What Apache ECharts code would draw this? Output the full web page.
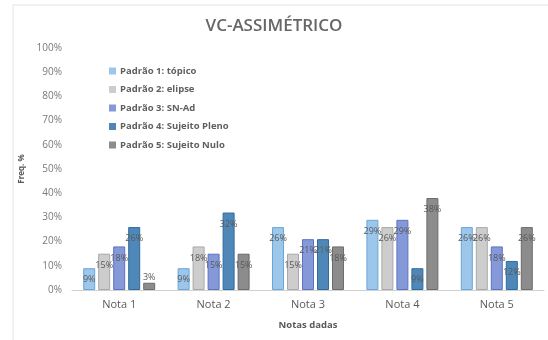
<!DOCTYPE html>
<html><head><meta charset="utf-8">
<script src="https://cdn.jsdelivr.net/npm/echarts@6/dist/echarts.min.js"></script>
<style>html,body{margin:0;padding:0;background:#fff}#c{width:548px;height:340px}</style>
</head><body><div id="c"></div>
<script>
const categories = ['Nota 1','Nota 2','Nota 3','Nota 4','Nota 5'];
const seriesNames = ['Padrão 1: tópico','Padrão 2: elipse','Padrão 3: SN-Ad','Padrão 4: Sujeito Pleno','Padrão 5: Sujeito Nulo'];
const p1 = [9, 9, 26, 29, 26];
const p2 = [15, 18, 15, 26, 26];
const p3 = [18, 15, 21, 29, 18];
const p4 = [26, 32, 21, 9, 12];
const p5 = [3, 15, 18, 38, 26];
const yTicks = [0,10,20,30,40,50,60,70,80,90,100];

const values = [p1,p2,p3,p4,p5];
const fills = ['#9cc6ea','#cdcdcd','#8599d9','#4f88b8','#8c8c8c'];
const borders = ['#6aa6d8','#a9a9a9','#5c73c2','#2f6b9c','#6c6c6c'];
const font = '"Open Sans", "Noto Sans", sans-serif';

const chart = echarts.init(document.getElementById('c'), null, {renderer:'canvas'});
chart.setOption({
  animation:false,
  title:{text:'VC-ASSIMÉTRICO', left:'center', top:13,
    textStyle:{fontFamily:font, fontSize:17, fontWeight:600, color:'#666666'}},
  graphic:[{type:'rect', shape:{x:13,y:5,width:540,height:340}, style:{fill:'none', stroke:'#e3e3e3', lineWidth:1}, silent:true}],
  legend:{orient:'vertical', left:104, top:61, itemWidth:7, itemHeight:7, itemGap:8.5,
    icon:'rect', itemStyle:{borderWidth:0},
    textStyle:{fontFamily:font, fontSize:9.5, fontWeight:'bold', color:'#5f5f5f', padding:[0,0,0,-1]},
    data:seriesNames},
  grid:{left:72, right:4, top:48, bottom:50},
  xAxis:{type:'category', data:categories, name:'Notas dadas', nameLocation:'middle', nameGap:30,
    nameTextStyle:{fontFamily:font, fontSize:9.5, fontWeight:'bold', color:'#595959'},
    axisLine:{lineStyle:{color:'#d0d0d0'}}, axisTick:{show:false},
    axisLabel:{fontFamily:font, fontSize:11, color:'#595959', margin:9}},
  yAxis:{type:'value', min:0, max:100, interval:10, name:'Freq. %', nameLocation:'middle', nameGap:39,
    nameTextStyle:{fontFamily:font, fontSize:8, fontWeight:'bold', color:'#595959'},
    splitLine:{show:false}, axisLine:{show:false}, axisTick:{show:false},
    axisLabel:{fontFamily:font, fontSize:10, color:'#7a7a7a', margin:10,
      formatter:v=> yTicks.includes(v) ? v+'%' : ''}},
  series: seriesNames.map((n,i)=>({
    name:n, type:'bar', barWidth:12, barGap:'25%',
    itemStyle:{color:fills[i], borderColor:borders[i], borderWidth:1},
    label:{show:true, position:'insideTop', distance:7, formatter:'{c}%',
      fontFamily:font, fontSize:9, color:'#595959'},
    data: values[i].map(v=>({value:v, label: v<5 ? {position:'top', distance:1} : undefined}))
  }))
});
</script></body></html>
